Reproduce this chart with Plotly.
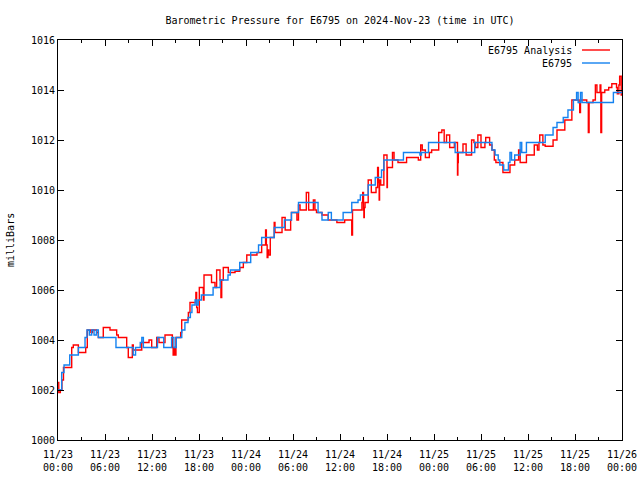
import pandas as pd
import plotly.graph_objects as go

# ---- data (hours after 2024-11-23 00:00 UTC, pressure in mbar) ----
analysis_hours = [0.0, 0.1, 0.3, 0.5, 0.7, 1.75, 1.95, 2.6, 3.54, 3.74, 4.2, 4.4, 4.94, 5.15, 5.78,
                  6.64, 7.49, 7.7, 8.77, 8.97, 9.49, 9.61, 10.69, 11.62, 11.96, 12.6, 12.89, 13.66,
                  14.6, 14.7, 14.8, 14.9, 15.06, 15.66, 15.79, 16.64, 16.85, 17.6, 17.7, 17.8, 18.04,
                  18.55, 18.64, 19.6, 20.04, 20.25, 20.68, 20.8, 20.9, 21.1, 21.74, 22.6, 23.2, 23.66,
                  24.1, 25.4, 26.0, 26.5, 26.6, 26.7, 26.8, 26.9, 27.1, 27.6, 27.7, 28.6, 29.0, 29.7,
                  29.8, 30.5, 30.7, 30.9, 31.7, 32.0, 32.6, 32.8, 33.0, 33.7, 34.5, 35.6, 36.6, 37.5,
                  37.6, 38.8, 38.9, 39.0, 39.05, 39.1, 39.2, 39.6, 40.0, 40.6, 40.8, 40.9, 41.0, 41.05,
                  41.2, 41.6, 42.0, 42.05, 42.7, 42.9, 43.4, 44.5, 46.0, 46.3, 46.5, 46.9, 47.4, 47.7,
                  48.6, 49.0, 49.3, 49.6, 50.0, 50.6, 51.0, 51.05, 51.1, 51.7, 52.1, 52.8, 53.1, 53.3,
                  53.6, 54.0, 54.5, 54.6, 55.1, 55.4, 55.7, 55.9, 56.8, 57.7, 58.3, 58.8, 59.0, 59.8,
                  60.8, 61.2, 61.4, 61.5, 61.9, 62.2, 63.2, 63.7, 64.7, 65.6, 66.5, 66.6, 66.7, 67.5,
                  67.7, 67.8, 68.3, 68.6, 68.8, 69.2, 69.3, 69.4, 69.8, 70.3, 70.7, 71.3, 71.4, 71.6,
                  71.7, 71.9, 72.0]
analysis_mbar = [1002.3, 1001.9, 1002.0, 1002.4, 1002.9, 1003.7, 1003.8, 1003.5, 1003.7, 1004.4, 1004.3,
                 1004.4, 1004.3, 1004.1, 1004.5, 1004.4, 1004.2, 1004.1, 1003.7, 1003.3, 1003.8, 1003.6,
                 1003.9, 1004.0, 1003.7, 1004.1, 1003.9, 1004.2, 1003.7, 1003.4, 1003.7, 1003.4, 1004.1,
                 1004.3, 1004.8, 1005.1, 1005.5, 1005.9, 1005.3, 1005.1, 1006.1, 1005.6, 1006.6, 1006.3,
                 1006.1, 1006.8, 1006.4, 1005.7, 1006.4, 1006.9, 1006.7, 1006.75, 1006.9, 1007.1, 1007.4,
                 1007.5, 1007.8, 1008.4, 1007.8, 1007.3, 1007.6, 1007.4, 1008.1, 1008.7, 1008.3, 1008.9,
                 1008.4, 1008.8, 1009.1, 1008.8, 1009.4, 1009.2, 1009.9, 1009.2, 1009.6, 1009.2, 1009.1,
                 1009.0, 1008.8, 1008.7, 1008.8, 1008.2, 1009.2, 1009.5, 1009.9, 1009.2, 1008.9, 1009.3,
                 1009.5, 1010.4, 1009.9, 1010.1, 1010.9, 1010.3, 1009.6, 1010.4, 1010.2, 1011.4, 1010.1,
                 1010.9, 1011.5, 1011.2, 1011.1, 1011.3, 1011.2, 1011.8, 1011.6, 1011.3, 1011.5, 1011.6,
                 1012.3, 1012.4, 1011.9, 1012.2, 1011.7, 1011.9, 1010.6, 1011.1, 1011.5, 1011.84, 1011.4,
                 1012.0, 1011.9, 1011.7, 1012.2, 1011.7, 1011.9, 1012.1, 1011.8, 1011.6, 1011.2, 1011.1,
                 1010.7, 1011.0, 1011.2, 1011.6, 1011.1, 1011.4, 1011.8, 1011.6, 1011.9, 1012.2, 1011.8,
                 1011.75, 1012.0, 1012.4, 1012.8, 1013.6, 1013.5, 1013.1, 1013.6, 1013.5, 1012.3, 1013.5,
                 1013.6, 1014.2, 1013.9, 1014.2, 1012.3, 1013.9, 1014.0, 1014.1, 1014.25, 1014.1, 1013.85,
                 1014.2, 1014.55, 1013.8, 1013.8]

station_hours = [0.0, 0.47, 0.77, 1.5, 2.6, 3.45, 3.7, 4.0, 4.3, 4.6, 4.9, 5.15, 7.4, 9.6, 9.9, 10.5,
                 10.7, 10.9, 12.7, 13.5, 14.5, 14.8, 15.1, 15.8, 16.2, 16.6, 16.9, 17.1, 17.5, 17.7,
                 17.9, 18.3, 19.8, 20.7, 21.7, 22.0, 23.2, 24.6, 25.6, 26.0, 27.6, 28.9, 29.8, 30.7,
                 33.2, 33.7, 34.5, 34.9, 36.4, 37.5, 38.3, 38.6, 39.6, 40.5, 41.3, 41.6, 44.1, 46.2,
                 46.4, 47.3, 50.7, 53.2, 55.4, 55.8, 56.2, 56.4, 56.9, 57.5, 57.7, 57.9, 58.3, 59.0,
                 59.2, 59.8, 62.2, 63.2, 63.7, 64.5, 65.1, 65.8, 66.2, 66.4, 66.7, 66.9, 70.9, 72.0]
station_mbar = [1002.0, 1002.7, 1003.0, 1003.4, 1003.7, 1004.1, 1004.4, 1004.2, 1004.4, 1004.2, 1004.4,
                1004.1, 1003.7, 1003.4, 1003.7, 1003.9, 1004.1, 1003.7, 1004.1, 1003.7, 1004.1, 1003.7,
                1004.1, 1004.4, 1004.7, 1004.9, 1005.1, 1005.4, 1005.6, 1005.4, 1005.6, 1005.8, 1006.1,
                1006.4, 1006.6, 1006.8, 1007.1, 1007.5, 1007.8, 1008.1, 1008.5, 1008.8, 1009.1, 1009.5,
                1009.1, 1008.8, 1009.1, 1008.8, 1009.1, 1009.5, 1009.6, 1009.8, 1010.2, 1010.5, 1010.8,
                1011.2, 1011.5, 1011.4, 1011.5, 1011.9, 1011.5, 1011.9, 1011.6, 1011.4, 1011.2, 1011.0,
                1010.8, 1011.1, 1011.5, 1011.2, 1011.4, 1011.9, 1011.5, 1011.9, 1012.2, 1012.5, 1012.7,
                1012.9, 1013.2, 1013.6, 1013.9, 1013.5, 1013.9, 1013.5, 1013.9, 1013.9]

tick_times = ["2024-11-23 00:00", "2024-11-23 06:00", "2024-11-23 12:00", "2024-11-23 18:00",
              "2024-11-24 00:00", "2024-11-24 06:00", "2024-11-24 12:00", "2024-11-24 18:00",
              "2024-11-25 00:00", "2024-11-25 06:00", "2024-11-25 12:00", "2024-11-25 18:00",
              "2024-11-26 00:00"]
tick_labels = ["11/23<br>00:00", "11/23<br>06:00", "11/23<br>12:00", "11/23<br>18:00",
               "11/24<br>00:00", "11/24<br>06:00", "11/24<br>12:00", "11/24<br>18:00",
               "11/25<br>00:00", "11/25<br>06:00", "11/25<br>12:00", "11/25<br>18:00",
               "11/26<br>00:00"]
y_ticks = [1000, 1002, 1004, 1006, 1008, 1010, 1012, 1014, 1016]

assert len(analysis_hours) == len(analysis_mbar)
assert len(station_hours) == len(station_mbar)

base = pd.Timestamp("2024-11-23 00:00")
ax_t = base + pd.to_timedelta(analysis_hours, unit="h")
st_t = base + pd.to_timedelta(station_hours, unit="h")

RED = "#ff0000"
BLUE = "#1482f0"
FONT = "DejaVu Sans Mono"

fig = go.Figure()
fig.add_trace(go.Scatter(x=ax_t, y=analysis_mbar, mode="lines", name="E6795 Analysis",
                         line=dict(color=RED, width=1.4, shape="hv"), showlegend=False))
fig.add_trace(go.Scatter(x=st_t, y=station_mbar, mode="lines", name="E6795",
                         line=dict(color=BLUE, width=1.4, shape="hv"), showlegend=False))

fig.update_layout(
    width=640, height=480,
    margin=dict(l=58, r=18, t=40, b=40, autoexpand=False),
    paper_bgcolor="white", plot_bgcolor="white",
    font=dict(family=FONT, size=10, color="black"),
    title=dict(text="Barometric Pressure for E6795 on 2024-Nov-23 (time in UTC)",
               x=0.5, xref="paper", xanchor="center", y=1 - 20 / 480, yanchor="middle",
               font=dict(family=FONT, size=10, color="black")),
)
fig.update_xaxes(
    type="date", range=[tick_times[0], tick_times[-1]], automargin=False,
    tickmode="array", tickvals=tick_times, ticktext=tick_labels,
    ticks="inside", ticklen=6, tickcolor="black", tickwidth=1, ticklabelstandoff=5,
    minor=dict(dtick=3 * 3600 * 1000, ticks="inside", ticklen=3, tickcolor="black"),
    showline=True, linecolor="black", linewidth=1, mirror="ticks",
    showgrid=False, zeroline=False,
)
fig.update_yaxes(
    range=[1000, 1016], tickmode="array", tickvals=y_ticks, automargin=False,
    ticks="inside", ticklen=6, tickcolor="black", tickwidth=1,
    showline=True, linecolor="black", linewidth=1, mirror="ticks",
    showgrid=False, zeroline=False,
)

# y-axis label
fig.add_annotation(text="milliBars", xref="paper", yref="paper",
                   x=(10 - 58) / 564, y=0.5, textangle=-90, showarrow=False,
                   xanchor="center", yanchor="middle", font=dict(family=FONT, size=10))

# gnuplot-style legend (text right aligned, sample line on the right)
legend_items = [("E6795 Analysis", RED, 50), ("E6795", BLUE, 63)]
for label, col, ypx in legend_items:
    yp = (440 - ypx) / 400
    fig.add_annotation(text=label, xref="paper", yref="paper", x=(574 - 58) / 564, y=yp,
                       xanchor="right", yanchor="middle", showarrow=False,
                       font=dict(family=FONT, size=10))
    fig.add_shape(type="line", xref="paper", yref="paper",
                  x0=(582 - 58) / 564, x1=(610 - 58) / 564, y0=yp, y1=yp,
                  line=dict(color=col, width=1.4))

fig.write_html("out.html", config={"displayModeBar": False, "staticPlot": True},
               post_script="document.body.style.margin='0px';document.body.style.overflow='hidden';")
